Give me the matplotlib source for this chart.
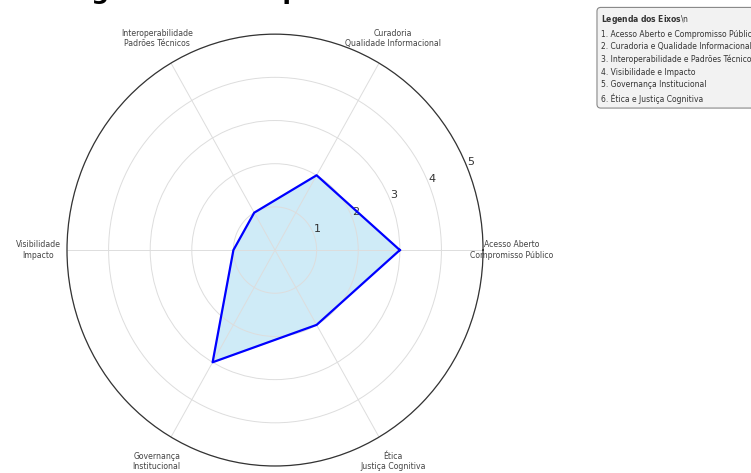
import matplotlib.pyplot as plt
import numpy as np

# eixos do radar e notas (0-5)
eixos = ['Acesso Aberto e Compromisso Público',
         'Curadoria e Qualidade Informacional',
         'Interoperabilidade e Padrões Técnicos',
         'Visibilidade e Impacto',
         'Governança Institucional',
         'Ética e Justiça Cognitiva']
notas = [3, 2, 1, 1, 3, 2]
rotulos = ['Acesso Aberto\nCompromisso Público',
           'Curadoria\nQualidade Informacional',
           'Interoperabilidade\nPadrões Técnicos',
           'Visibilidade\nImpacto',
           'Governança\nInstitucional',
           'Ética\nJustiça Cognitiva']
r_ticks = [1, 2, 3, 4, 5]

n = len(eixos)
ang = np.linspace(0, 2 * np.pi, n, endpoint=False).tolist()
vals = notas + notas[:1]
ang_f = ang + ang[:1]

fig = plt.figure(figsize=(7.51, 4.73), dpi=100)
ax = fig.add_axes([0.0892, 0.0148, 0.554, 0.913], polar=True)
ax.set_aspect('auto')

ax.fill(ang_f, vals, color='skyblue', alpha=0.4)
ax.plot(ang_f, vals, color='blue', linewidth=1.6)

ax.set_ylim(0, 5)
ax.set_yticks(r_ticks)
ax.set_yticklabels([str(t) for t in r_ticks], fontsize=8, color='#333333')
ax.set_xticks(ang)
ax.set_xticklabels(rotulos, fontsize=5.6, color='#444444')
ax.tick_params(axis='x', pad=10)
ax.grid(color='#dddddd', linewidth=0.7)
ax.spines['polar'].set_color('#333333')
ax.spines['polar'].set_linewidth(0.9)

# titulo (cortado no topo da imagem, so aparecem as descendentes)
fig.text(0.060, 1.003, 'Diagnóstico Comparativo dos Eixos', fontsize=18,
         fontweight='bold', va='baseline', ha='left')

legenda = r'$\bf{Legenda\ dos\ Eixos}$\n' + '\n' + '\n'.join(
    f'{i+1}. {e}' for i, e in enumerate(eixos))
fig.text(0.800, 0.972, legenda, fontsize=5.5, va='top', ha='left',
         linespacing=1.5, color='#333333',
         bbox=dict(boxstyle='round,pad=0.5', facecolor='#f2f2f2',
                   edgecolor='#888888', linewidth=0.8))

plt.savefig('out.png', dpi=100)
